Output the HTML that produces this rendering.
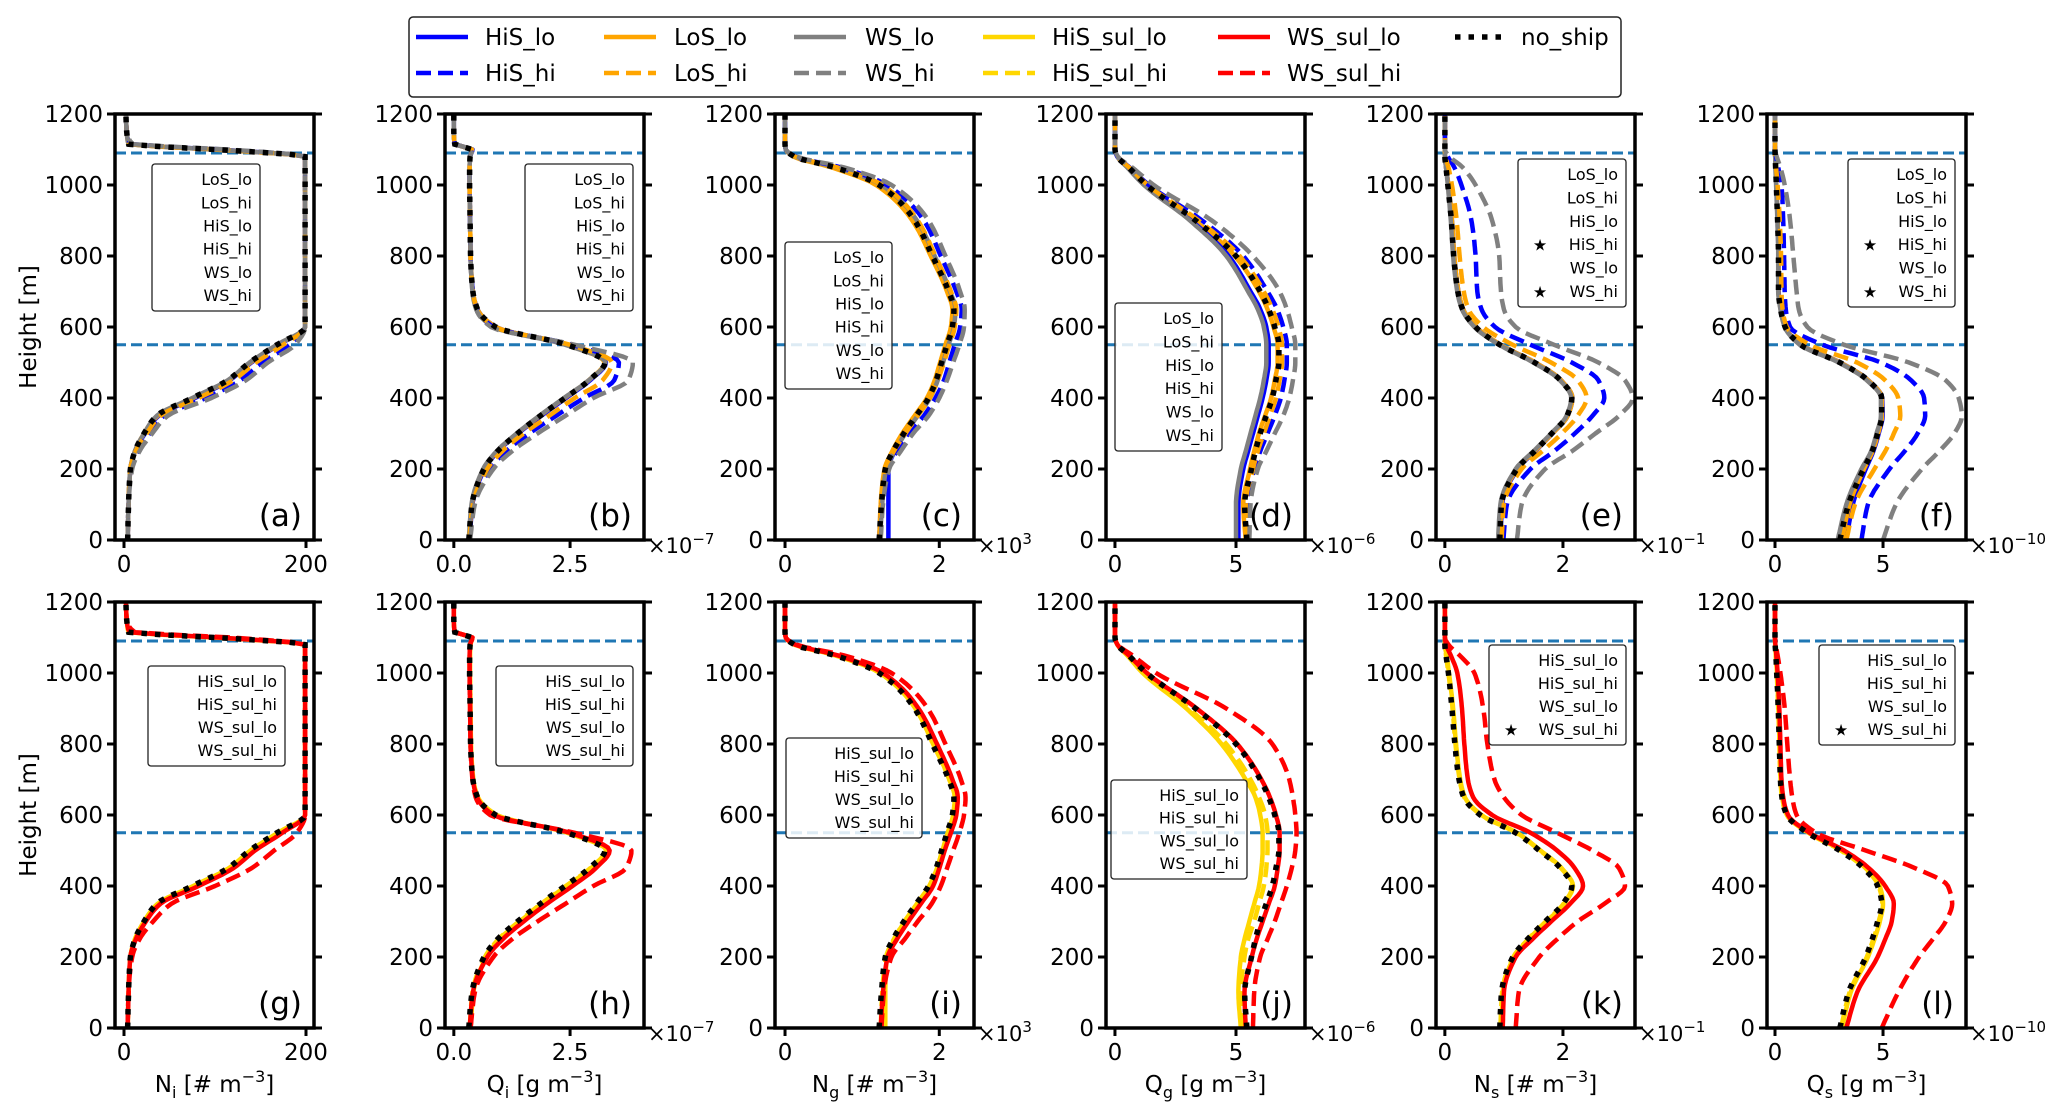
<!DOCTYPE html>
<html><head><meta charset="utf-8"><title>Profiles</title>
<style>
html,body{margin:0;padding:0;background:#fff;}
svg{display:block;font-family:"DejaVu Sans","Liberation Sans",sans-serif;}
</style></head>
<body>
<svg id="fig" xmlns="http://www.w3.org/2000/svg" width="2067" height="1116" viewBox="0 0 2067 1116"></svg>
<script>
// ---------- data (heights in m) ----------
const heights = [0,100,200,250,300,350,400,450,500,550,600,650,700,800,900,1000,1050,1080,1100,1115,1150,1200];

// panel a: Ni
const a_no     = [4,5,7,12,22,36,75,114,138,168,199,199,199,199,199,199,199,199,100,5,3,2];
const a_HiS_lo = [4,5,7,12,23,38,78,116,140,170,199,199,199,199,199,199,199,199,102,6,3,2];
const a_LoS_lo = [4,5,7,12,22,37,76,115,139,169,199,199,199,199,199,199,199,199,98,5,3,2];
const a_WS_lo  = [4,5,7,12,22,36,75,114,138,168,199,199,199,199,199,199,199,199,100,5,3,2];
const a_HiS_hi = [4,5,8,15,28,44,90,128,152,182,199,199,199,199,199,199,199,199,110,8,3,2];
const a_LoS_hi = [4,5,7,13,25,40,82,120,145,175,199,199,199,199,199,199,199,199,105,6,3,2];
const a_WS_hi  = [4,5,9,17,31,48,96,134,158,188,199,199,199,199,199,199,199,199,115,10,3,2];
// panel b: Qi (x1e-7)
const b_no     = [0.32,0.39,0.65,0.94,1.37,1.86,2.39,2.91,3.25,2.43,0.9,0.51,0.41,0.36,0.35,0.34,0.34,0.35,0.39,0.02,0,0];
const b_HiS_lo = [0.34,0.4,0.66,0.95,1.38,1.88,2.41,2.93,3.27,2.45,0.9,0.51,0.41,0.36,0.35,0.34,0.34,0.35,0.4,0.02,0,0];
const b_LoS_lo = [0.33,0.39,0.64,0.93,1.36,1.85,2.38,2.9,3.24,2.42,0.9,0.51,0.41,0.36,0.35,0.34,0.34,0.35,0.39,0.02,0,0];
const b_WS_lo  = [0.32,0.38,0.63,0.92,1.35,1.84,2.37,2.9,3.26,2.4,0.85,0.48,0.4,0.36,0.35,0.34,0.34,0.35,0.39,0.02,0,0];
const b_HiS_hi = [0.34,0.42,0.78,1.12,1.62,2.2,2.8,3.45,3.55,2.55,0.85,0.5,0.41,0.36,0.35,0.34,0.34,0.35,0.4,0.02,0,0];
const b_LoS_hi = [0.33,0.41,0.72,1.04,1.5,2.05,2.6,3.2,3.4,2.5,0.88,0.5,0.41,0.36,0.35,0.34,0.34,0.35,0.39,0.02,0,0];
const b_WS_hi  = [0.35,0.45,0.85,1.25,1.8,2.4,3.0,3.75,3.85,2.6,0.8,0.48,0.4,0.36,0.35,0.34,0.34,0.35,0.4,0.02,0,0];
// panel c: Ng (x1e3)
const c_no     = [1.22,1.25,1.3,1.4,1.54,1.7,1.86,1.96,2.03,2.1,2.17,2.19,2.12,1.91,1.68,1.22,0.64,0.12,0.01,0,0,0];
const c_HiS_lo = [1.34,1.34,1.34,1.42,1.55,1.71,1.87,1.97,2.04,2.11,2.18,2.2,2.13,1.93,1.7,1.24,0.65,0.12,0.01,0,0,0];
const c_LoS_lo = [1.22,1.24,1.29,1.39,1.52,1.68,1.84,1.94,2.01,2.08,2.15,2.17,2.1,1.89,1.65,1.18,0.6,0.11,0.01,0,0,0];
const c_WS_lo  = [1.23,1.26,1.31,1.42,1.56,1.72,1.88,1.98,2.05,2.12,2.19,2.21,2.14,1.94,1.71,1.25,0.66,0.12,0.01,0,0,0];
const c_HiS_hi = [1.22,1.25,1.32,1.45,1.6,1.8,1.95,2.06,2.13,2.2,2.27,2.29,2.22,2.02,1.8,1.32,0.72,0.14,0.01,0,0,0];
const c_LoS_hi = [1.22,1.25,1.3,1.41,1.56,1.72,1.88,1.98,2.06,2.13,2.2,2.22,2.15,1.95,1.72,1.26,0.67,0.13,0.01,0,0,0];
const c_WS_hi  = [1.24,1.27,1.35,1.5,1.66,1.86,2.0,2.1,2.18,2.26,2.32,2.33,2.27,2.08,1.86,1.38,0.76,0.15,0.01,0,0,0];
// panel d: Qg (x1e-6)
const d_no     = [5.45,5.36,5.64,5.8,6.0,6.25,6.5,6.65,6.77,6.77,6.6,6.35,6.0,5.0,3.33,1.3,0.56,0.1,0,0,0,0];
const d_HiS_lo = [5.1,5.1,5.3,5.5,5.7,5.9,6.1,6.25,6.35,6.35,6.25,6.0,5.6,4.7,3.15,1.22,0.52,0.1,0,0,0,0];
const d_LoS_lo = [5.4,5.3,5.58,5.75,5.95,6.2,6.45,6.6,6.72,6.72,6.55,6.3,5.95,4.95,3.3,1.28,0.55,0.1,0,0,0,0];
const d_WS_lo  = [5.0,5.0,5.2,5.4,5.6,5.8,6.0,6.15,6.25,6.25,6.15,5.9,5.5,4.6,3.1,1.2,0.5,0.1,0,0,0,0];
const d_HiS_hi = [5.45,5.45,5.75,6.0,6.3,6.6,6.85,7.0,7.1,7.1,6.95,6.7,6.3,5.3,3.6,1.4,0.6,0.1,0,0,0,0];
const d_LoS_hi = [5.45,5.4,5.7,5.9,6.15,6.4,6.65,6.8,6.9,6.9,6.75,6.5,6.15,5.15,3.45,1.35,0.58,0.1,0,0,0,0];
const d_WS_hi  = [5.55,5.6,5.9,6.25,6.6,6.95,7.2,7.35,7.45,7.45,7.3,7.1,6.8,5.7,4.0,1.6,0.7,0.12,0,0,0,0];
// panel e: Ns (x1e-1)
const e_no     = [0.93,0.96,1.22,1.52,1.81,2.07,2.15,1.96,1.52,0.93,0.52,0.3,0.22,0.15,0.11,0.05,0.02,0,0,0,0,0];
const e_HiS_lo = [0.94,0.97,1.23,1.53,1.82,2.08,2.16,1.97,1.53,0.94,0.53,0.31,0.23,0.16,0.12,0.06,0.02,0,0,0,0,0];
const e_LoS_lo = [0.93,0.96,1.22,1.52,1.82,2.08,2.16,1.97,1.53,0.94,0.53,0.31,0.23,0.16,0.12,0.06,0.02,0,0,0,0,0];
const e_WS_lo  = [0.9,0.94,1.2,1.5,1.8,2.06,2.14,1.95,1.5,0.92,0.5,0.29,0.21,0.14,0.1,0.05,0.02,0,0,0,0,0];
const e_HiS_hi = [0.99,1.05,1.45,1.85,2.2,2.5,2.7,2.6,2.15,1.45,0.85,0.62,0.55,0.52,0.45,0.28,0.16,0.05,0,0,0,0];
const e_LoS_hi = [0.96,1.0,1.3,1.65,1.98,2.25,2.4,2.25,1.8,1.15,0.65,0.4,0.32,0.25,0.2,0.12,0.06,0.01,0,0,0,0];
const e_WS_hi  = [1.22,1.3,1.7,2.15,2.55,2.95,3.18,3.05,2.6,1.85,1.2,1.0,0.95,0.92,0.8,0.52,0.3,0.08,0,0,0,0];
// panel f: Qs (x1e-10)
const f_no     = [3.0,3.4,4.1,4.5,4.75,4.94,4.94,4.3,3.0,1.18,0.47,0.26,0.16,0.16,0.12,0.06,0.03,0.01,0,0,0,0];
const f_HiS_lo = [3.3,3.6,4.2,4.55,4.8,4.98,4.96,4.32,3.02,1.2,0.48,0.27,0.17,0.16,0.12,0.06,0.03,0.01,0,0,0,0];
const f_LoS_lo = [3.1,3.45,4.12,4.52,4.77,4.95,4.95,4.31,3.01,1.19,0.47,0.26,0.16,0.16,0.12,0.06,0.03,0.01,0,0,0,0];
const f_WS_lo  = [2.9,3.3,4.0,4.45,4.7,4.9,4.9,4.25,2.95,1.15,0.45,0.25,0.15,0.15,0.11,0.05,0.02,0.01,0,0,0,0];
const f_HiS_hi = [4.0,4.3,5.3,6.0,6.6,6.95,6.9,6.3,4.9,2.2,0.7,0.5,0.45,0.42,0.38,0.3,0.15,0.05,0,0,0,0];
const f_LoS_hi = [3.3,3.7,4.6,5.1,5.5,5.8,5.7,5.1,3.8,1.6,0.55,0.35,0.3,0.28,0.22,0.12,0.05,0.01,0,0,0,0];
const f_WS_hi  = [5.0,5.6,6.8,7.6,8.3,8.65,8.5,7.9,6.2,3.2,1.5,1.1,1.0,0.85,0.7,0.45,0.25,0.08,0,0,0,0];
// panel g: Ni (sulphur)
const g_no          = [4,5,7,12,22,36,75,114,138,168,199,199,199,199,199,199,199,199,100,5,3,2];
const g_HiS_sul_lo  = [4,5,7,12,22,37,76,115,139,169,199,199,199,199,199,199,199,199,100,5,3,2];
const g_HiS_sul_hi  = [4,5,7,12,23,38,78,117,141,171,199,199,199,199,199,199,199,199,102,6,3,2];
const g_WS_sul_lo   = [4,5,7,13,24,40,82,120,144,174,199,199,199,199,199,199,199,199,104,6,3,2];
const g_WS_sul_hi   = [4,5,9,17,32,52,100,140,165,190,199,199,199,199,199,199,199,199,118,12,3,2];
// panel h: Qi
const h_no          = [0.32,0.39,0.65,0.94,1.37,1.86,2.39,2.91,3.25,2.43,0.9,0.51,0.41,0.36,0.35,0.34,0.34,0.35,0.39,0.02,0,0];
const h_HiS_sul_lo  = [0.36,0.42,0.7,0.98,1.42,1.9,2.42,2.95,3.28,2.45,0.92,0.52,0.42,0.37,0.36,0.35,0.35,0.36,0.4,0.02,0,0];
const h_HiS_sul_hi  = [0.34,0.4,0.67,0.96,1.4,1.88,2.41,2.93,3.26,2.44,0.91,0.51,0.41,0.36,0.35,0.34,0.34,0.35,0.39,0.02,0,0];
const h_WS_sul_lo   = [0.34,0.41,0.72,1.05,1.5,2.0,2.55,3.05,3.35,2.5,0.85,0.5,0.41,0.36,0.35,0.34,0.34,0.35,0.4,0.02,0,0];
const h_WS_sul_hi   = [0.36,0.45,0.85,1.25,1.8,2.4,3.0,3.7,3.82,2.6,0.78,0.47,0.4,0.36,0.35,0.34,0.34,0.35,0.4,0.02,0,0];
// panel i: Ng
const i_no          = [1.22,1.25,1.3,1.4,1.54,1.7,1.86,1.96,2.03,2.1,2.17,2.19,2.12,1.91,1.68,1.22,0.64,0.12,0.01,0,0,0];
const i_HiS_sul_lo  = [1.3,1.3,1.32,1.42,1.55,1.71,1.87,1.97,2.04,2.11,2.18,2.2,2.13,1.92,1.69,1.23,0.65,0.12,0.01,0,0,0];
const i_HiS_sul_hi  = [1.24,1.26,1.31,1.41,1.55,1.71,1.87,1.97,2.04,2.11,2.18,2.2,2.13,1.92,1.69,1.23,0.65,0.12,0.01,0,0,0];
const i_WS_sul_lo   = [1.24,1.27,1.33,1.45,1.6,1.76,1.92,2.0,2.07,2.15,2.22,2.24,2.17,1.97,1.73,1.27,0.68,0.13,0.01,0,0,0];
const i_WS_sul_hi   = [1.25,1.28,1.38,1.55,1.72,1.9,2.02,2.1,2.18,2.26,2.32,2.34,2.28,2.08,1.85,1.38,0.76,0.15,0.01,0,0,0];
// panel j: Qg
const j_no          = [5.45,5.36,5.64,5.8,6.0,6.25,6.5,6.65,6.77,6.77,6.6,6.35,6.0,5.0,3.33,1.3,0.56,0.1,0,0,0,0];
const j_HiS_sul_lo  = [5.2,5.1,5.2,5.35,5.55,5.75,5.95,6.05,6.1,6.1,6.0,5.8,5.4,4.4,2.95,1.15,0.5,0.1,0,0,0,0];
const j_HiS_sul_hi  = [5.3,5.2,5.35,5.5,5.75,5.95,6.15,6.25,6.3,6.3,6.2,5.95,5.6,4.6,3.05,1.2,0.52,0.1,0,0,0,0];
const j_WS_sul_lo   = [5.4,5.35,5.65,5.85,6.1,6.35,6.6,6.72,6.8,6.8,6.65,6.4,6.05,5.05,3.38,1.32,0.57,0.1,0,0,0,0];
const j_WS_sul_hi   = [5.7,5.75,6.0,6.3,6.6,6.85,7.1,7.3,7.45,7.5,7.45,7.35,7.2,6.5,4.6,1.7,0.72,0.12,0,0,0,0];
// panel k: Ns
const k_no          = [0.93,0.96,1.15,1.4,1.7,2.0,2.15,1.96,1.6,1.2,0.6,0.32,0.24,0.17,0.12,0.06,0.02,0,0,0,0,0];
const k_HiS_sul_lo  = [0.96,0.98,1.17,1.42,1.72,2.02,2.17,1.98,1.62,1.22,0.62,0.34,0.26,0.19,0.14,0.07,0.03,0,0,0,0,0];
const k_HiS_sul_hi  = [0.94,0.97,1.16,1.41,1.71,2.01,2.16,1.97,1.61,1.21,0.61,0.33,0.25,0.18,0.13,0.06,0.02,0,0,0,0,0];
const k_WS_sul_lo   = [0.98,1.0,1.2,1.48,1.8,2.12,2.34,2.2,1.9,1.45,0.8,0.48,0.39,0.33,0.29,0.21,0.1,0.02,0,0,0,0];
const k_WS_sul_hi   = [1.2,1.25,1.6,1.9,2.25,2.7,3.05,2.95,2.5,1.9,1.3,1.0,0.84,0.72,0.65,0.5,0.25,0.06,0,0,0,0];
// panel l: Qs
const l_no          = [3.0,3.4,4.2,4.5,4.75,4.94,4.75,4.1,3.0,1.5,0.54,0.32,0.25,0.2,0.15,0.08,0.04,0.01,0,0,0,0];
const l_HiS_sul_lo  = [3.1,3.5,4.3,4.6,4.85,5.0,4.85,4.2,3.1,1.55,0.56,0.33,0.26,0.21,0.16,0.09,0.04,0.01,0,0,0,0];
const l_HiS_sul_hi  = [3.05,3.45,4.25,4.55,4.8,4.97,4.8,4.15,3.05,1.52,0.55,0.32,0.25,0.2,0.15,0.08,0.04,0.01,0,0,0,0];
const l_WS_sul_lo   = [3.3,3.8,4.75,5.1,5.4,5.5,5.1,4.35,3.2,1.6,0.6,0.38,0.3,0.25,0.2,0.12,0.06,0.02,0,0,0,0];
const l_WS_sul_hi   = [4.94,5.7,6.67,7.3,7.9,8.2,8.0,6.5,4.2,1.9,1.0,0.8,0.7,0.57,0.45,0.25,0.12,0.04,0,0,0,0];

const pblTop = 1090;
const pblMid = 550;
const yTicks = [0,200,400,600,800,1000,1200];

// ---------- layout ----------
const NS = "http://www.w3.org/2000/svg";
const svg = document.getElementById('fig');
function mk(tag, attrs, parent){
  const e = document.createElementNS(NS, tag);
  for (const k in attrs) e.setAttribute(k, attrs[k]);
  (parent||svg).appendChild(e);
  return e;
}
// monotone cubic (Fritsch-Carlson) resampling of x(h)
function smoothPts(hs, vs, xs, ys){
  const n = hs.length, d = [], m = new Array(n);
  for (let i=0;i<n-1;i++) d.push((vs[i+1]-vs[i])/(hs[i+1]-hs[i]));
  m[0]=d[0]; m[n-1]=d[n-2];
  for (let i=1;i<n-1;i++){
    if (d[i-1]*d[i] <= 0) m[i]=0;
    else { const w1=2*(hs[i+1]-hs[i])+(hs[i]-hs[i-1]), w2=(hs[i+1]-hs[i])+2*(hs[i]-hs[i-1]); m[i]=(w1+w2)/(w1/d[i-1]+w2/d[i]); }
  }
  const out=[];
  for (let i=0;i<n-1;i++){
    const h0=hs[i], h1=hs[i+1], dh=h1-h0, steps=Math.max(2,Math.round(dh/8));
    for (let s=0;s<steps;s++){
      const t=s/steps, t2=t*t, t3=t2*t;
      const v=(2*t3-3*t2+1)*vs[i]+(t3-2*t2+t)*dh*m[i]+(-2*t3+3*t2)*vs[i+1]+(t3-t2)*dh*m[i+1];
      out.push(xs(v).toFixed(1)+','+ys(h0+t*dh).toFixed(1));
    }
  }
  out.push(xs(vs[n-1]).toFixed(1)+','+ys(hs[n-1]).toFixed(1));
  return out.join(' ');
}
const COL = {blue:'#0000ff', orange:'#ffa500', gray:'#808080', gold:'#ffd700', red:'#ff0000'};
const panelLefts = [115,445,775,1106,1436,1767];
const PW = 199;
const rows = [{top:114,bot:540},{top:602,bot:1028}];

const topPanels = [
 {id:'a', dom:[-9.9,208.8], ticks:[0,200], tl:['0','200'], off:'', series:[
   ['HiS_lo',a_HiS_lo,'blue',false],['LoS_lo',a_LoS_lo,'orange',false],['WS_lo',a_WS_lo,'gray',false],
   ['HiS_hi',a_HiS_hi,'blue',true],['LoS_hi',a_LoS_hi,'orange',true],['WS_hi',a_WS_hi,'gray',true]], no:a_no,
   leg:[152,164,260,311], legItems:['LoS_lo','LoS_hi','HiS_lo','HiS_hi','WS_lo','WS_hi'], stars:[]},
 {id:'b', dom:[-0.19,4.09], ticks:[0,2.5], tl:['0.0','2.5'], off:'−7', series:[
   ['HiS_lo',b_HiS_lo,'blue',false],['LoS_lo',b_LoS_lo,'orange',false],['WS_lo',b_WS_lo,'gray',false],
   ['HiS_hi',b_HiS_hi,'blue',true],['LoS_hi',b_LoS_hi,'orange',true],['WS_hi',b_WS_hi,'gray',true]], no:b_no,
   leg:[525,164,633,311], legItems:['LoS_lo','LoS_hi','HiS_lo','HiS_hi','WS_lo','WS_hi'], stars:[]},
 {id:'c', dom:[-0.13,2.45], ticks:[0,2], tl:['0','2'], off:'3', series:[
   ['HiS_lo',c_HiS_lo,'blue',false],['LoS_lo',c_LoS_lo,'orange',false],['WS_lo',c_WS_lo,'gray',false],
   ['HiS_hi',c_HiS_hi,'blue',true],['LoS_hi',c_LoS_hi,'orange',true],['WS_hi',c_WS_hi,'gray',true]], no:c_no,
   leg:[785,242,892,389], legItems:['LoS_lo','LoS_hi','HiS_lo','HiS_hi','WS_lo','WS_hi'], stars:[]},
 {id:'d', dom:[-0.37,7.85], ticks:[0,5], tl:['0','5'], off:'−6', series:[
   ['LoS_lo',d_LoS_lo,'orange',false],['HiS_lo',d_HiS_lo,'blue',false],['WS_lo',d_WS_lo,'gray',false],
   ['HiS_hi',d_HiS_hi,'blue',true],['LoS_hi',d_LoS_hi,'orange',true],['WS_hi',d_WS_hi,'gray',true]], no:d_no,
   leg:[1115,303,1222,451], legItems:['LoS_lo','LoS_hi','HiS_lo','HiS_hi','WS_lo','WS_hi'], stars:[]},
 {id:'e', dom:[-0.15,3.22], ticks:[0,2], tl:['0','2'], off:'−1', series:[
   ['HiS_lo',e_HiS_lo,'blue',false],['LoS_lo',e_LoS_lo,'orange',false],['WS_lo',e_WS_lo,'gray',false],
   ['HiS_hi',e_HiS_hi,'blue',true],['LoS_hi',e_LoS_hi,'orange',true],['WS_hi',e_WS_hi,'gray',true]], no:e_no,
   leg:[1518,159,1626,307], legItems:['LoS_lo','LoS_hi','HiS_lo','HiS_hi','WS_lo','WS_hi'], stars:[3,5]},
 {id:'f', dom:[-0.37,8.84], ticks:[0,5], tl:['0','5'], off:'−10', series:[
   ['HiS_lo',f_HiS_lo,'blue',false],['LoS_lo',f_LoS_lo,'orange',false],['WS_lo',f_WS_lo,'gray',false],
   ['HiS_hi',f_HiS_hi,'blue',true],['LoS_hi',f_LoS_hi,'orange',true],['WS_hi',f_WS_hi,'gray',true]], no:f_no,
   leg:[1848,159,1955,307], legItems:['LoS_lo','LoS_hi','HiS_lo','HiS_hi','WS_lo','WS_hi'], stars:[3,5]}
];
const botPanels = [
 {id:'g', dom:topPanels[0].dom, ticks:[0,200], tl:['0','200'], off:'', xl:['N','i','[# m','−3',']'], series:[
   ['HiS_sul_lo',g_HiS_sul_lo,'gold',false],['HiS_sul_hi',g_HiS_sul_hi,'gold',true],['WS_sul_lo',g_WS_sul_lo,'red',false],['WS_sul_hi',g_WS_sul_hi,'red',true]], no:g_no,
   leg:[148,666,285,766], legItems:['HiS_sul_lo','HiS_sul_hi','WS_sul_lo','WS_sul_hi'], stars:[]},
 {id:'h', dom:topPanels[1].dom, ticks:[0,2.5], tl:['0.0','2.5'], off:'−7', xl:['Q','i','[g m','−3',']'], series:[
   ['HiS_sul_lo',h_HiS_sul_lo,'gold',false],['HiS_sul_hi',h_HiS_sul_hi,'gold',true],['WS_sul_lo',h_WS_sul_lo,'red',false],['WS_sul_hi',h_WS_sul_hi,'red',true]], no:h_no,
   leg:[496,666,633,766], legItems:['HiS_sul_lo','HiS_sul_hi','WS_sul_lo','WS_sul_hi'], stars:[]},
 {id:'i', dom:topPanels[2].dom, ticks:[0,2], tl:['0','2'], off:'3', xl:['N','g','[# m','−3',']'], series:[
   ['HiS_sul_lo',i_HiS_sul_lo,'gold',false],['HiS_sul_hi',i_HiS_sul_hi,'gold',true],['WS_sul_lo',i_WS_sul_lo,'red',false],['WS_sul_hi',i_WS_sul_hi,'red',true]], no:i_no,
   leg:[786,738,922,838], legItems:['HiS_sul_lo','HiS_sul_hi','WS_sul_lo','WS_sul_hi'], stars:[]},
 {id:'j', dom:topPanels[3].dom, ticks:[0,5], tl:['0','5'], off:'−6', xl:['Q','g','[g m','−3',']'], series:[
   ['HiS_sul_lo',j_HiS_sul_lo,'gold',false],['HiS_sul_hi',j_HiS_sul_hi,'gold',true],['WS_sul_lo',j_WS_sul_lo,'red',false],['WS_sul_hi',j_WS_sul_hi,'red',true]], no:j_no,
   leg:[1111,780,1247,879], legItems:['HiS_sul_lo','HiS_sul_hi','WS_sul_lo','WS_sul_hi'], stars:[]},
 {id:'k', dom:topPanels[4].dom, ticks:[0,2], tl:['0','2'], off:'−1', xl:['N','s','[# m','−3',']'], series:[
   ['HiS_sul_lo',k_HiS_sul_lo,'gold',false],['HiS_sul_hi',k_HiS_sul_hi,'gold',true],['WS_sul_lo',k_WS_sul_lo,'red',false],['WS_sul_hi',k_WS_sul_hi,'red',true]], no:k_no,
   leg:[1489,645,1626,745], legItems:['HiS_sul_lo','HiS_sul_hi','WS_sul_lo','WS_sul_hi'], stars:[3]},
 {id:'l', dom:topPanels[5].dom, ticks:[0,5], tl:['0','5'], off:'−10', xl:['Q','s','[g m','−3',']'], series:[
   ['HiS_sul_lo',l_HiS_sul_lo,'gold',false],['HiS_sul_hi',l_HiS_sul_hi,'gold',true],['WS_sul_lo',l_WS_sul_lo,'red',false],['WS_sul_hi',l_WS_sul_hi,'red',true]], no:l_no,
   leg:[1819,645,1955,745], legItems:['HiS_sul_lo','HiS_sul_hi','WS_sul_lo','WS_sul_hi'], stars:[3]}
];

function drawPanel(p, col, row){
  const L = panelLefts[col], R = L + PW, T = rows[row].top, B = rows[row].bot;
  const xs = v => L + (v - p.dom[0]) / (p.dom[1] - p.dom[0]) * PW;
  const ys = h => B - h / 1200 * (B - T);
  const g = mk('g', {});
  
  
  const cp = mk('clipPath', {id:'clip-'+p.id}, g);
  mk('rect', {x:L, y:T, width:PW, height:B-T}, cp);
  const plot = mk('g', {'clip-path':'url(#clip-'+p.id+')'}, g);
  [pblTop, pblMid].forEach((h, idx) => {
    const ln = mk('line', {x1:L, x2:R, y1:ys(h), y2:ys(h), stroke:'#1f77b4', 'stroke-width':3, 'stroke-dasharray':'11,5'}, plot);
    
    
  });
  p.series.forEach(s => {
    const attrs = {points:smoothPts(heights, s[1], xs, ys), fill:'none', stroke:COL[s[2]], 'stroke-width':4.5, 'stroke-linejoin':'round'};
    if (s[3]) attrs['stroke-dasharray'] = '15,7';
    const pl = mk('polyline', attrs, plot);
    
    
  });
  const nl = mk('polyline', {points:smoothPts(heights, p.no, xs, ys), fill:'none', stroke:'#000', 'stroke-width':5.5, 'stroke-dasharray':'5.5,8'}, plot);
  
  
  const [lx1, ly1, lx2, ly2] = p.leg;
  const lg = mk('g', {}, g);
  
  
  mk('rect', {x:lx1, y:ly1, width:lx2-lx1, height:ly2-ly1, rx:3, fill:'#fff', 'fill-opacity':0.85, stroke:'#222', 'stroke-width':1.3}, lg);
  const n = p.legItems.length, step = (ly2 - ly1 - 8) / n;
  p.legItems.forEach((name, i) => {
    const t = mk('text', {x:lx2 - 8, y:ly1 + 4 + step*(i+0.5) + 5.5, 'text-anchor':'end', 'font-size':16, fill:'#000'}, lg);
    t.textContent = name;
    
    
    if (p.stars.indexOf(i) >= 0) {
      const st = mk('text', {x:lx1 + 22, y:ly1 + 4 + step*(i+0.5) + 6, 'text-anchor':'middle', 'font-size':16, fill:'#000'}, lg);
      st.textContent = '★';
      
      
    }
  });
  const sp = mk('rect', {x:L, y:T, width:PW, height:B-T, fill:'none', stroke:'#000', 'stroke-width':3.5}, g);
  
  
  yTicks.forEach(v => {
    mk('line', {x1:L-8, x2:L, y1:ys(v), y2:ys(v), stroke:'#000', 'stroke-width':3}, g);
    mk('line', {x1:R, x2:R+8, y1:ys(v), y2:ys(v), stroke:'#000', 'stroke-width':3}, g);
    const t = mk('text', {x:L-12, y:ys(v)+8, 'text-anchor':'end', 'font-size':23, fill:'#000'}, g);
    t.textContent = String(v);
    
    
  });
  p.ticks.forEach((v, i) => {
    mk('line', {x1:xs(v), x2:xs(v), y1:B, y2:B+8, stroke:'#000', 'stroke-width':3}, g);
    const t = mk('text', {x:xs(v), y:B+32, 'text-anchor':'middle', 'font-size':23, fill:'#000'}, g);
    t.textContent = p.tl[i];
    
    
  });
  if (p.off) {
    const t = mk('text', {x:R+4, y:B+13, 'font-size':21, fill:'#000'}, g);
    
    
    t.appendChild(document.createTextNode('×10'));
    const sup = mk('tspan', {dy:-9, 'font-size':15}, t);
    sup.textContent = p.off;
  }
  const pl = mk('text', {x:R-12, y:B-14, 'text-anchor':'end', 'font-size':31, fill:'#000'}, g);
  pl.textContent = '(' + p.id + ')';
  
  
  if (p.xl) {
    const t = mk('text', {x:(L+R)/2, y:1092, 'text-anchor':'middle', 'font-size':23, fill:'#000'}, g);
    
    
    t.appendChild(document.createTextNode(p.xl[0]));
    const sub = mk('tspan', {dy:6, 'font-size':16}, t); sub.textContent = p.xl[1];
    const mid = mk('tspan', {dy:-6}, t); mid.textContent = ' ' + p.xl[2];
    const sup = mk('tspan', {dy:-10, 'font-size':16}, t); sup.textContent = p.xl[3];
    const end = mk('tspan', {dy:10}, t); end.textContent = p.xl[4];
  }
}
topPanels.forEach((p, i) => drawPanel(p, i, 0));
botPanels.forEach((p, i) => drawPanel(p, i, 1));

[327, 815].forEach(cy => {
  const t = mk('text', {x:0, y:0, transform:'translate(36,'+cy+') rotate(-90)', 'text-anchor':'middle', 'font-size':23, fill:'#000'});
  t.textContent = 'Height [m]';
  
  
});

// ---------- main legend ----------
const legNames = ['HiS_lo','HiS_hi','LoS_lo','LoS_hi','WS_lo','WS_hi','HiS_sul_lo','HiS_sul_hi','WS_sul_lo','WS_sul_hi','no_ship'];
const legColors = ['blue','blue','orange','orange','gray','gray','gold','gold','red','red','black'];
const legStyles = ['solid','dash','solid','dash','solid','dash','solid','dash','solid','dash','dot'];
const legCols = [[416,485],[604,674],[794,865],[983,1052],[1218,1287],[1455,1521]];
const mainLeg = mk('g', {});


mk('rect', {x:409, y:17, width:1212, height:80, rx:4, fill:'#fff', stroke:'#222', 'stroke-width':1.5}, mainLeg);
legNames.forEach((nm, i) => {
  const c = Math.floor(i/2), r = i % 2;
  const y = r === 0 ? 37 : 73;
  const [x0, tx] = legCols[c];
  const attrs = {x1:x0, x2:x0+52, y1:y, y2:y, stroke: legColors[i]==='black' ? '#000' : COL[legColors[i]], 'stroke-width':4.5};
  if (legStyles[i] === 'dash') attrs['stroke-dasharray'] = '15,7';
  if (legStyles[i] === 'dot') { attrs['stroke-dasharray'] = '5.5,8'; attrs['stroke-width'] = 5.5; }
  const ln = mk('line', attrs, mainLeg);
  
  
  const t = mk('text', {x:tx, y:y+8, 'font-size':23, fill:'#000'}, mainLeg);
  t.textContent = nm;
  
  
});
</script>
</body></html>
